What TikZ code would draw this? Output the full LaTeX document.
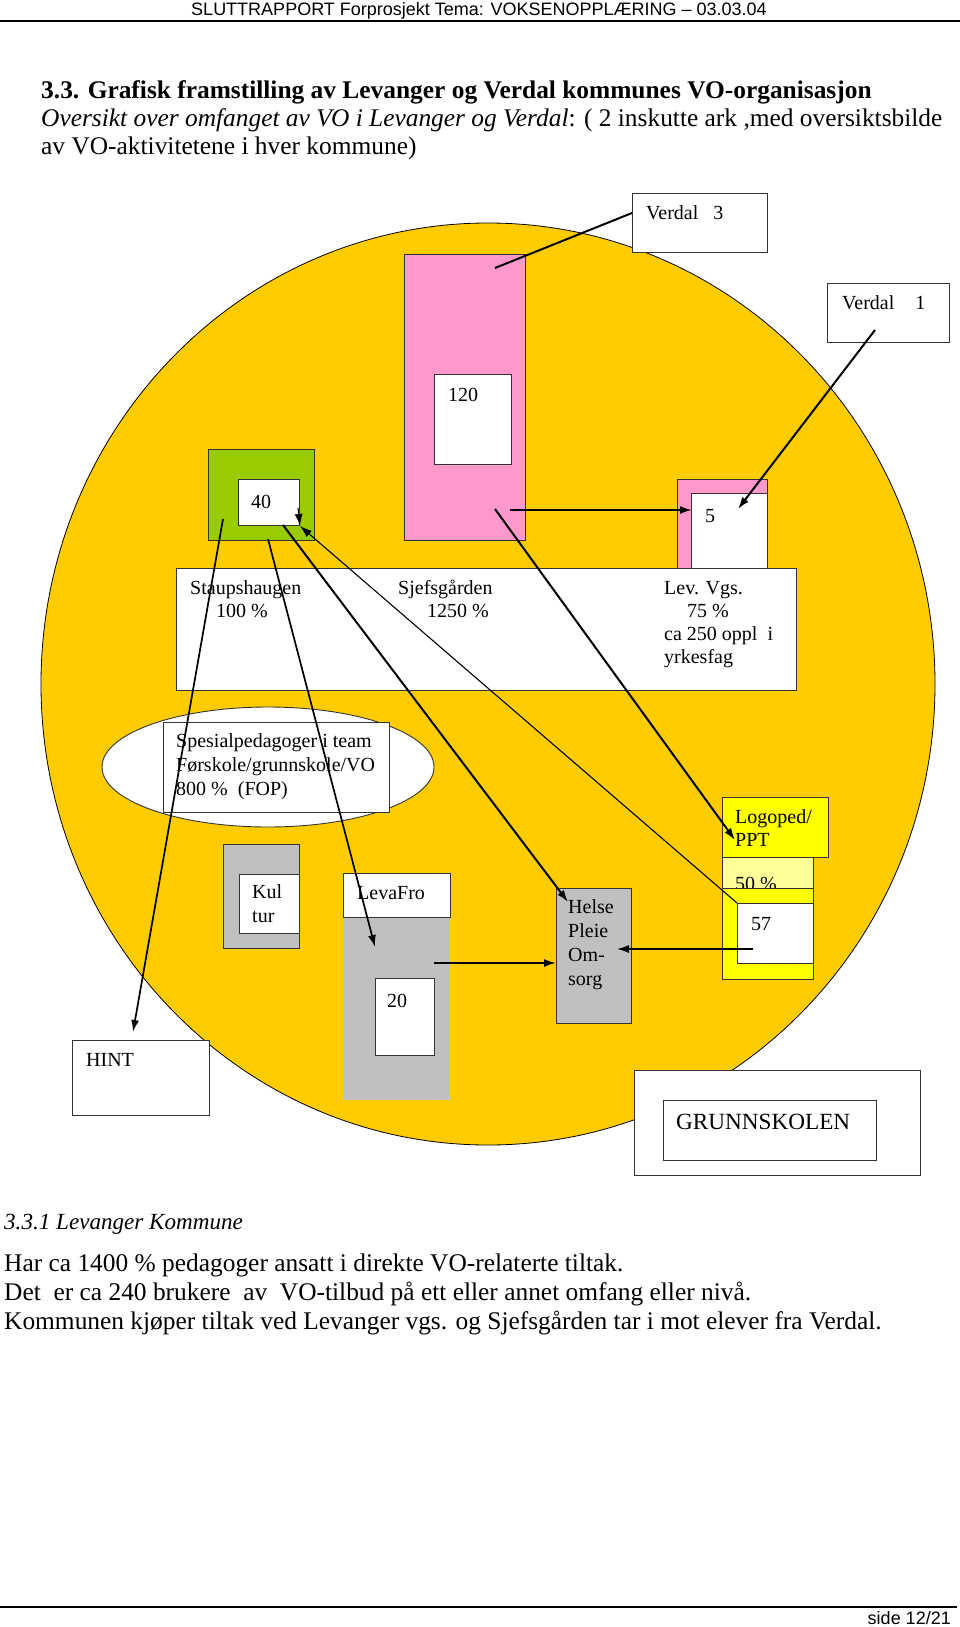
\documentclass[tikz,border=0pt]{standalone}
\usepackage{fontspec}
\setmainfont{Liberation Serif}
\newfontfamily\hdrfont{Liberation Sans}
\usetikzlibrary{arrows.meta}
\definecolor{vogold}{HTML}{FFCC00}
\definecolor{vopink}{HTML}{FF99CC}
\definecolor{vogreen}{HTML}{99CC00}
\definecolor{vogray}{HTML}{C0C0C0}
\definecolor{voyellow}{HTML}{FFFF00}
\definecolor{volight}{HTML}{FFFF99}
\definecolor{voedge}{HTML}{333333}
\def\boxtext{\fontsize{20}{23.5}\selectfont}
\def\bodytext{\fontsize{25.4}{30}\selectfont}

\begin{document}
\begin{tikzpicture}[x=1pt,y=-1pt,
    box/.style={draw=voedge,line width=0.9pt},
    lbl/.style={anchor=base west,inner sep=0pt,font=\boxtext},
    body/.style={anchor=base west,inner sep=0pt,font=\bodytext},
    arr/.style={-{Latex[length=12pt,width=8pt]},line width=2pt},
    thinarr/.style={-{Latex[length=12pt,width=8pt]},line width=1.1pt}]
			%%%%% START %%%%%
			\useasboundingbox[fill=white] (0,0) rectangle (960,1627);
			
			% page head
			\node[anchor=base,inner sep=0pt,font=\hdrfont\fontsize{18}{20}\selectfont] (head) at (479,16) {SLUTTRAPPORT Forprosjekt Tema: VOKSENOPPLÆRING – 03.03.04};
			\draw[line width=1.3pt] (0,21) -- (960,21);
			
			\node[body,font=\bodytext\bfseries] (title) at (41,99) {3.3. Grafisk framstilling av Levanger og Verdal kommunes VO-organisasjon};
			\node[body] (intro1) at (41,127) {\textit{Oversikt over omfanget av VO i Levanger og Verdal}: ( 2 inskutte ark ,med oversiktsbilde};
			\node[body] (intro2) at (41,154) {av VO-aktivitetene i hver kommune)};
			
			% the big circle
			\draw[fill=vogold,line width=0.8pt] (488,684) ellipse [x radius=447, y radius=461];
			
			\draw[box,fill=white] (632,193) rectangle (767,252);
			\node[lbl] (verdal3) at (646,219) {Verdal~~~3};
			\draw[box,fill=white] (827,283) rectangle (949,342);
			\node[lbl] (verdal1) at (842,309) {Verdal\hspace{21pt}1};
			
			\draw[box,fill=vopink] (404,254) rectangle (525,540);
			\draw[box,fill=white] (434,374) rectangle (511,464);
			\node[lbl] (n120) at (448,401) {120};
			
			\draw[box,fill=vogreen] (208,449) rectangle (314,540);
			\draw[box,fill=white] (238,479) rectangle (299,525);
			\node[lbl] (n40) at (251,508) {40};
			
			\draw[box,fill=vopink] (677,479) rectangle (767,569);
			\draw[box,fill=white] (691,493) rectangle (767,569);
			\node[lbl] (n5) at (705,522) {5};
			
			\draw[box,fill=white] (176,568) rectangle (796,690);
			\node[lbl] (staup) at (190,594) {Staupshaugen};
			\node[lbl] (staupP) at (216,617) {100 \%};
			\node[lbl] (sjefs) at (398,594) {Sjefsgården};
			\node[lbl] (sjefsP) at (427,617) {1250 \%};
			\foreach \txt/\dx [count=\i] in {Lev. Vgs./0, 75 \%/23, ca 250 oppl~ i/0, yrkesfag/0}
				\node[lbl] (levvgs\i) at ({664+\dx},{594+23*(\i-1)}) {\txt};
			
			\draw[box,fill=white] (268,767) ellipse [x radius=166, y radius=60];
			\draw[box,fill=white] (163,722) rectangle (389,812);
			\foreach \txt [count=\i] in {Spesialpedagoger i team, Førskole/grunnskole/VO, 800 \%~ (FOP)}
				\node[lbl] (spes\i) at (176,{747+24*(\i-1)}) {\txt};
			
			\draw[box,fill=voyellow] (722,797) rectangle (828,857);
			\node[lbl] (logo1) at (735,823) {Logoped/};
			\node[lbl] (logo2) at (735,846) {PPT};
			\draw[box,fill=voyellow] (722,888) rectangle (813,979);
			\begin{scope}
				\clip (722,857) rectangle (813,888);
				\fill[volight] (722,857) rectangle (813,888);
				\node[lbl] (pct50) at (735,890) {50 \%};
			\end{scope}
			\draw[box] (722,857) rectangle (813,888);
			\draw[box,fill=white] (737,903) rectangle (813,963);
			\node[lbl] (n57) at (751,930) {57};
			
			\draw[box,fill=vogray] (223,844) rectangle (299,948);
			\draw[box,fill=white] (239,874) rectangle (299,933);
			\node[lbl] (kul1) at (252,898) {Kul};
			\node[lbl] (kul2) at (252,922) {tur};
			
			\fill[vogray] (343,917) rectangle (450,1100);
			\draw[box,fill=white] (343,873) rectangle (450,917);
			\node[lbl] (leva) at (357,899) {LevaFro};
			\draw[box,fill=white] (375,978) rectangle (434,1055);
			\node[lbl] (n20) at (387,1007) {20};
			
			\draw[box,fill=vogray] (556,888) rectangle (631,1023);
			\foreach \txt [count=\i] in {Helse, Pleie, Om-, sorg}
				\node[lbl] (helse\i) at (568,{913+24*(\i-1)}) {\txt};
			
			\draw[box,fill=white] (72,1040) rectangle (209,1115);
			\node[lbl] (hint) at (86,1066) {HINT};
			
			\draw[box,fill=white] (634,1070) rectangle (920,1175);
			\draw[box,fill=white] (663,1100) rectangle (876,1160);
			\node[lbl,font=\fontsize{23.2}{26}\selectfont] (grunn) at (676,1129) {GRUNNSKOLEN};
			
			% connectors
			\coordinate (pinkA) at (495,268);
			\coordinate (v3) at (632,213);
			\coordinate (v1) at (875,330);
			\coordinate (in5) at (738,509);
			\coordinate (pinkB) at (510,510);
			\coordinate (edge5) at (692,510);
			\coordinate (pinkC) at (495,509);
			\coordinate (ppt) at (735,840);
			\coordinate (greenA) at (223,519);
			\coordinate (hintTop) at (133,1032);
			\coordinate (greenB) at (268,539);
			\coordinate (levaIn) at (375,947);
			\coordinate (corner40) at (283,525);
			\coordinate (helseIn) at (568,902);
			\coordinate (corner57) at (737,903);
			\coordinate (tip40) at (300,526);
			\coordinate (top40) at (298,508);
			\coordinate (right20) at (434,963);
			\coordinate (helseL) at (556,963);
			\coordinate (in57) at (753,949);
			\coordinate (helseR) at (617,949);
			
			\draw[line width=2pt] (pinkA) -- (v3);
			\draw[arr] (v1) -- (in5);
			\draw[arr] (pinkB) -- (edge5);
			\draw[arr] (pinkC) -- (ppt);
			\draw[arr,line width=1.7pt] (greenA) -- (hintTop);
			\draw[arr,line width=1.7pt] (greenB) -- (levaIn);
			\draw[arr] (corner40) -- (helseIn);
			\draw[thinarr] (corner57) -- (tip40);
			\draw[thinarr] (top40) -- (tip40);
			\draw[arr] (right20) -- (helseL);
			\draw[arr,line width=1.5pt] (in57) -- (helseR);
			
			% text under the picture
			\node[body,font=\fontsize{23.1}{27}\selectfont\itshape] (sub) at (4,1229) {3.3.1 Levanger Kommune};
			\node[body] (txt1) at (4,1271) {Har ca 1400 \% pedagoger ansatt i direkte VO-relaterte tiltak.};
			\node[body] (txt2) at (4,1300) {Det~ er ca 240 brukere~ av~ VO-tilbud på ett eller annet omfang eller nivå.};
			\node[body] (txt3) at (4,1329) {Kommunen kjøper tiltak ved Levanger vgs. og Sjefsgården tar i mot elever fra Verdal.};
			
			% page foot
			\draw[line width=1.3pt] (0,1607) -- (957,1607);
			\node[anchor=base east,inner sep=0pt,font=\hdrfont\fontsize{18}{20}\selectfont] (side) at (951,1624) {side 12/21};
			%%%%% END %%%%%
\end{tikzpicture}
\end{document}
